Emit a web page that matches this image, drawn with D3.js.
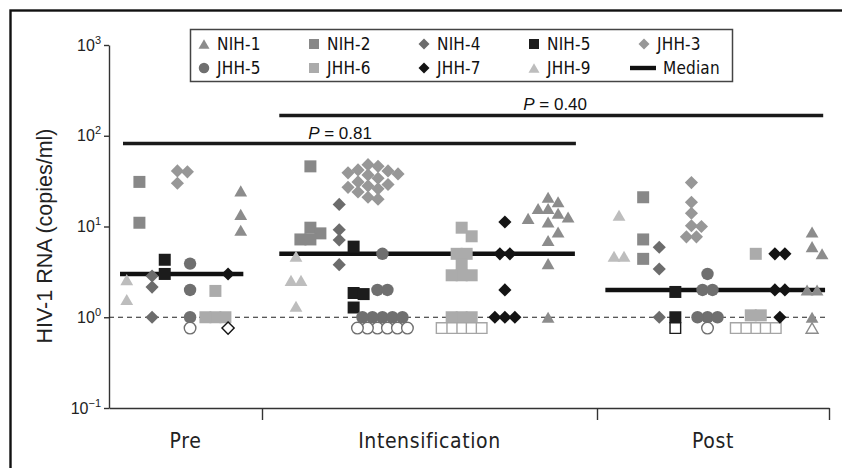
<!DOCTYPE html>
<html><head><meta charset="utf-8">
<script src="https://cdn.jsdelivr.net/npm/d3@7"></script>
<style>body{margin:0;background:#fff}svg{display:block}</style>
</head><body>
<svg id="c" width="842" height="468"></svg>
<script>
// ---------------- DATA ----------------
const patients = ["NIH-1","NIH-2","NIH-4","NIH-5","JHH-3","JHH-5","JHH-6","JHH-7","JHH-9"];
const columnOrder = ["JHH-9","NIH-2","NIH-4","NIH-5","JHH-3","JHH-5","JHH-6","JHH-7","NIH-1"];
const phases = ["Pre","Intensification","Post"];
const medians = [3, 5, 2];
const yTickExponents = [-1, 0, 1, 2, 3];
const detectionLimit = 1;
const belowLimitValue = 0.76;   // level at which undetectable samples are shown (open symbols)

// detected viral loads (copies/ml) per patient
const preValues = [
  ["JHH-9",[2.6,1.57]],
  ["NIH-2",[31,11]],
  ["NIH-4",[2.85,2.15,1]],
  ["NIH-5",[4.3,3]],
  ["JHH-3",[41,40,30]],
  ["JHH-5",[3.9,2,1]],
  ["JHH-6",[1.95,1,1,1]],
  ["JHH-7",[3]],
  ["NIH-1",[24.7,13.6,9.1]]
];
const intensValues = [
  ["JHH-9",[4.7,2.55,2.55,1.32]],
  ["NIH-2",[46,9.7,8.4,7.2,7.2]],
  ["NIH-4",[17.5,9.2,7.1,3.8]],
  ["NIH-5",[6,1.85,1.8,1.28]],
  ["JHH-3",[48,46,42,41,39,38,37,34,31,29,28,27,26,24,21,20]],
  ["JHH-5",[5,2,2,1,1,1,1,1]],
  ["JHH-6",[9.7,7.8,5,5,3.8,2.9,2.9,2.9,1,1,1]],
  ["JHH-7",[11.2,5,5,2,1,1,1]],
  ["NIH-1",[21,18.7,15.8,15.8,14,12.7,12.3,11.2,8.7,7,3.9,1]]
];
const postValues = [
  ["JHH-9",[13.3,4.7,4.7]],
  ["NIH-2",[21,7.2,4.4]],
  ["NIH-4",[5.9,3.4,1]],
  ["NIH-5",[1.9,1]],
  ["JHH-3",[30.5,18.5,14,10.2,10,7.7,7.7]],
  ["JHH-5",[3,2,2,1,1,1]],
  ["JHH-6",[5,1.05,1.05]],
  ["JHH-7",[5,5,2,2,1]],
  ["NIH-1",[8.7,6,5,2,2,1]]
];
// number of undetectable samples per patient
const preUndetected = [["JHH-5",1],["JHH-7",1]];
const intensUndetected = [["JHH-5",6],["JHH-6",5]];
const postUndetected = [["NIH-5",1],["JHH-5",1],["JHH-6",5],["NIH-1",1]];
// statistical comparisons
const comparisons = [
  {from:"Pre", to:"Intensification", p:"0.81"},
  {from:"Intensification", to:"Post", p:"0.40"}
];

// ---------------- STYLE / LAYOUT ----------------
const shapeOf = {"NIH-1":"triangle","NIH-2":"square","NIH-4":"diamond","NIH-5":"square","JHH-3":"diamond",
                 "JHH-5":"circle","JHH-6":"square","JHH-7":"diamond","JHH-9":"triangle"};
const colorOf = {"NIH-1":"#8c8c8c","NIH-2":"#888888","NIH-4":"#6c6c6c","NIH-5":"#1c1c1c","JHH-3":"#979797",
                 "JHH-5":"#6f6f6f","JHH-6":"#ababab","JHH-7":"#141414","JHH-9":"#bdbdbd"};
const openStroke = {"NIH-1":"#8c8c8c","NIH-5":"#1c1c1c","JHH-5":"#6f6f6f","JHH-6":"#a5a5a5","JHH-7":"#141414"};
const colSpan = [[0.116,0.861],[0.1015,0.854],[0.095,0.927]];     // in band units
const medianSpan = [[0.072,0.878],[0.0516,0.934],[0.036,0.983]];
const compLayout = [{x0:0.0915,x1:1.937,ly:143.5,tx:1.233,ty:138.5},{x0:1.0516,x1:2.975,ly:115.5,tx:1.875,ty:109.5}];
const FONT = "'Liberation Sans', Arial, Helvetica, sans-serif";
const NARROW = "'Liberation Sans Narrow', 'Arial Narrow', 'DejaVu Sans Condensed', 'Liberation Sans', sans-serif";

const svg = d3.select("#c");
svg.append("rect").attr("width",842).attr("height",468).attr("fill","#fff");
svg.append("rect").attr("x",10.5).attr("y",10.5).attr("width",900).attr("height",600)
   .attr("fill","none").attr("stroke","#111").attr("stroke-width",2.4);

const x = d3.scaleLinear().domain([0,1,2,3]).range([109,262,597,829]);
const y = d3.scaleLog().domain([0.1,1000]).range([408,45]);

// marker path generator
function markerPath(shape, s){
  if(shape==="circle") return d3.symbol(d3.symbolCircle, Math.PI*s*s/4)();
  if(shape==="square" || shape==="diamond") return d3.symbol(d3.symbolSquare, s*s)();
  if(shape==="triangle") return d3.symbol(d3.symbolTriangle, Math.sqrt(3)*s*s/4)();
}
function markerTransform(shape, s){
  if(shape==="diamond") return " rotate(45)";
  if(shape==="triangle") return ` translate(0,${(s/(2*Math.sqrt(3)))/2})`;
  return "";
}
const markerSize = {circle:12.4, square:12, diamond:9.3, triangle:12.8};
const openSize = {circle:11.6, square:10.6, diamond:8.6, triangle:12};

// ---------------- AXES ----------------
const gy = svg.append("g").attr("transform","translate(109,0)")
  .call(d3.axisLeft(y).tickValues(yTickExponents.map(e=>Math.pow(10,e))).tickSize(5).tickSizeOuter(0).tickFormat(""));
gy.select(".domain").attr("stroke","#333").attr("stroke-width",1.4);
gy.selectAll(".tick line").attr("stroke","#333").attr("stroke-width",1.4);

const ylab = svg.append("g");
yTickExponents.forEach(e=>{
  const t = ylab.append("text").attr("x",101).attr("y",y(Math.pow(10,e))+5.5)
    .attr("text-anchor","end").attr("font-family",FONT).attr("font-size",16).attr("fill","#222");
  t.append("tspan").text("10");
  t.append("tspan").attr("dy",-7).attr("font-size",11).text(e<0 ? "\u2212"+Math.abs(e) : String(e));
});

svg.append("text").attr("transform",`translate(52,236) rotate(-90)`).attr("text-anchor","middle")
  .attr("font-family",FONT).attr("font-size",21.5).attr("fill","#222").text("HIV-1 RNA (copies/ml)");

const gx = svg.append("g").attr("transform",`translate(0,${y(0.1)})`)
  .call(d3.axisBottom(x).tickValues([1,2,3]).tickSize(12).tickSizeOuter(0).tickFormat(""));
gx.select(".domain").attr("stroke","#333").attr("stroke-width",1.6);
gx.selectAll(".tick line").attr("stroke","#333").attr("stroke-width",1.4);
phases.forEach((p,i)=>{
  svg.append("text").attr("x",x(i+0.5)).attr("y",448).attr("text-anchor","middle")
    .attr("font-family",NARROW).attr("font-size",21).attr("letter-spacing",0.6).attr("fill","#222").text(p);
});

// detection limit
svg.append("line").attr("x1",x(0)).attr("x2",x(3)).attr("y1",y(detectionLimit)).attr("y2",y(detectionLimit))
  .attr("stroke","#222").attr("stroke-width",1.2).attr("stroke-dasharray","5,4");

// comparisons
comparisons.forEach((c,i)=>{
  const L = compLayout[i];
  svg.append("line").attr("x1",x(L.x0)).attr("x2",x(L.x1)).attr("y1",L.ly).attr("y2",L.ly)
    .attr("stroke","#1a1a1a").attr("stroke-width",3.4);
  const t = svg.append("text").attr("x",x(L.tx)).attr("y",L.ty).attr("text-anchor","middle")
    .attr("font-family",FONT).attr("font-size",17).attr("fill","#111");
  t.append("tspan").attr("font-style","italic").text("P");
  t.append("tspan").text(" = "+c.p);
});

// medians
medians.forEach((m,i)=>{
  svg.append("line").attr("x1",x(i+medianSpan[i][0])).attr("x2",x(i+medianSpan[i][1]))
    .attr("y1",y(m)).attr("y2",y(m)).attr("stroke","#111").attr("stroke-width",4.4);
});

// ---------------- POINTS (swarm layout) ----------------
const D = 10, G = 10;
function collide(a, adx, b, bdx){ return Math.abs(adx-bdx)<D-1e-6 && Math.abs(a.py-b.py)<D-1e-6; }
function swarm(pts){
  const placed=[];
  pts.slice().sort((a,b)=>a.py-b.py).forEach(p=>{
    for(let k=0;k<60;k++){
      const dx = k===0?0:(k%2 ? Math.ceil(k/2)*D : -Math.ceil(k/2)*D);
      if(!placed.some(q=>collide(q,q.dx,p,dx))){p.dx=dx;break;}
    }
    placed.push(p);
  });
  const groups = d3.group(placed, p=>p.v+"|"+p.open);
  for(const [,grp] of groups){
    if(grp.length<2) continue;
    const m = d3.mean(grp,p=>p.dx);
    const others = placed.filter(p=>!grp.includes(p));
    const ok = grp.every(p=>!others.some(q=>collide(q,q.dx,p,p.dx-m)));
    if(ok) grp.forEach(p=>p.dx-=m);
  }
  return placed;
}
const phaseValues = [preValues, intensValues, postValues];
const phaseUndet = [preUndetected, intensUndetected, postUndetected];
const allPts = [];
phases.forEach((ph,gi)=>{
  const cols = columnOrder.map(pt=>{
    const vals = (phaseValues[gi].find(d=>d[0]===pt)||[pt,[]])[1];
    const und = (phaseUndet[gi].find(d=>d[0]===pt)||[pt,0])[1];
    const pts = vals.map(v=>({patient:pt,v,open:false,py:y(v)}))
      .concat(d3.range(und).map(()=>({patient:pt,v:belowLimitValue,open:true,py:y(belowLimitValue)})));
    return {pt, pts:swarm(pts)};
  }).filter(c=>c.pts.length);
  // pack columns left to right: minimal step G, and no marker collision with the previous column
  cols.forEach((c,i)=>{
    if(i===0){ c.u=0; return; }
    const prev=cols[i-1];
    let u = prev.u + G;
    prev.pts.forEach(p=>c.pts.forEach(q=>{
      if(Math.abs(p.py-q.py)<D-1e-6) u = Math.max(u, prev.u + p.dx - q.dx + D);
    }));
    c.u=u;
  });
  const cx = d3.scaleLinear().domain([0,cols[cols.length-1].u]).range([x(gi+colSpan[gi][0]), x(gi+colSpan[gi][1])]);
  cols.forEach(c=>c.pts.forEach(p=>{ p.px = cx(c.u)+p.dx; allPts.push(p); }));
});

const gp = svg.append("g");
gp.selectAll("path").data(allPts).join("path")
  .attr("d",d=>{const sh=shapeOf[d.patient]; return markerPath(sh, d.open?openSize[sh]:markerSize[sh]);})
  .attr("transform",d=>{const sh=shapeOf[d.patient]; return `translate(${d.px},${d.py})`+markerTransform(sh, d.open?openSize[sh]:markerSize[sh]);})
  .attr("fill",d=>d.open?"#fff":colorOf[d.patient])
  .attr("stroke",d=>d.open?openStroke[d.patient]:"none")
  .attr("stroke-width",d=>d.open?1.4:0);

// ---------------- LEGEND ----------------
const lg = svg.append("g");
lg.append("rect").attr("x",190.5).attr("y",29.5).attr("width",542).attr("height",52)
  .attr("fill","#fff").attr("stroke","#444").attr("stroke-width",1.5);
const legendItems = patients.map(p=>({label:p,patient:p})).concat([{label:"Median",median:true}]);
const legSize = {circle:10.5, square:10, diamond:7.8, triangle:11};
legendItems.forEach((it,i)=>{
  const col=i%5,row=Math.floor(i/5);
  const sx = 204 + col*110, sy = 44 + row*24;
  if(it.median){
    lg.append("line").attr("x1",sx-14).attr("x2",sx+12).attr("y1",sy).attr("y2",sy)
      .attr("stroke","#111").attr("stroke-width",4.4);
  } else {
    const sh = shapeOf[it.patient];
    lg.append("path").attr("d",markerPath(sh,legSize[sh]))
      .attr("transform",`translate(${sx},${sy})`+markerTransform(sh,legSize[sh]))
      .attr("fill",colorOf[it.patient]);
  }
  lg.append("text").attr("x",sx+(it.median?19:13)).attr("y",sy+6).attr("font-family",NARROW)
    .attr("font-size",17).attr("letter-spacing",0.2).attr("fill","#111").text(it.label);
});
</script>
</body></html>
